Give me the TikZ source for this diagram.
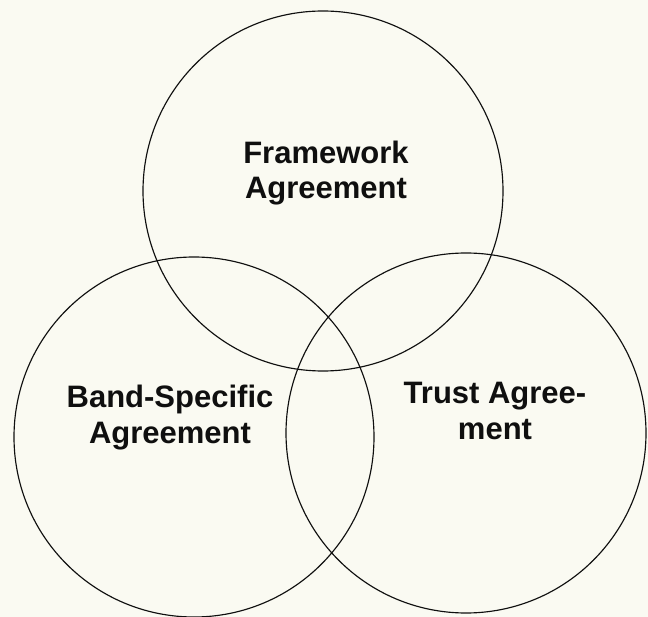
\documentclass[tikz,border=0pt]{standalone}
\usepackage{fontspec}
\setmainfont{Liberation Sans}
\definecolor{paper}{RGB}{250,250,242}
\definecolor{ink}{RGB}{15,15,15}
\begin{document}
\begin{tikzpicture}[x=1pt,y=-1pt,
  ring/.style={circle, draw=ink, line width=1.15pt, minimum size=360pt, inner sep=0pt},
  caption/.style={align=center, anchor=base, inner sep=0pt, text=ink,
    font=\fontsize{31}{35.5}\selectfont\bfseries}]
  % paper background fixing the page size
  \fill[paper] (0,0) rectangle (648,617);
  \useasboundingbox (0,0) rectangle (648,617);

  % the three overlapping agreements
  \node[ring] (framework) at (323,191) {};
  \node[ring] (band)      at (194,437) {};
  \node[ring] (trust)     at (466,433) {};

  % labels (anchored on the baseline of their last line)
  \node[caption] (fwtext)    at (326,199) {Framework\\Agreement};
  \node[caption] (bandtext)  at (170,443) {Band-Specific\\Agreement};
  \node[caption] (trusttext) at (495,439) {Trust Agree-\\ment};
\end{tikzpicture}
\end{document}
